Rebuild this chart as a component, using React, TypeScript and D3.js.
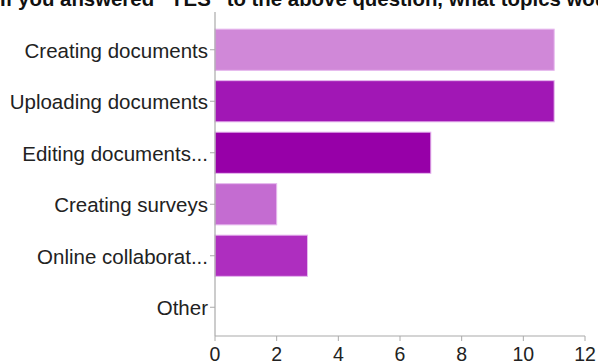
import React from "react";
import * as d3 from "d3";

const categories = [
  "Creating documents",
  "Uploading documents",
  "Editing documents...",
  "Creating surveys",
  "Online collaborat...",
  "Other",
];
const values = [11, 11, 7, 2, 3, 0];
const colors = ["#D088D8", "#A117B5", "#9700A8", "#C46CD1", "#AE2EBF", "#C46CD1"];
const xTicks = [0, 2, 4, 6, 8, 10, 12];
const title = "If you answered \u201CYES\u201D to the above question, what topics would you like to see covered?";

const W = 598;
const H = 364;
const left = 215;
const right = 585;
const top = 24;
const bottom = 336;

export default function App() {
  const x = d3.scaleLinear().domain([0, 12]).range([left, right]);
  const y = d3
    .scaleBand<string>()
    .domain(categories)
    .range([top, bottom - 3])
    .paddingInner(0.2)
    .paddingOuter(0.1);
  const font = "'Liberation Sans', Arial, Helvetica, sans-serif";
  return (
    <svg
      width={W}
      height={H}
      style={{ position: "absolute", left: 0, top: 0, background: "#fff" }}
      fontFamily={font}
    >
      <text x={0} y={6} fontSize={20.4} fontWeight="bold" fill="#111">
        {title}
      </text>
      {categories.map((c, i) => (
        <rect
          key={c}
          x={x(0)}
          y={y(c)!}
          width={x(values[i]) - x(0)}
          height={y.bandwidth()}
          fill={colors[i]}
          stroke={values[i] > 0 ? "#e6b8ee" : "none"}
          strokeWidth={1}
          style={{ display: values[i] > 0 ? undefined : "none" }}
        />
      ))}
      <line x1={left} x2={left} y1={top - 12} y2={bottom} stroke="#aaa" strokeWidth={1.2} />
      <line x1={left} x2={right} y1={bottom} y2={bottom} stroke="#aaa" strokeWidth={1.2} />
      {categories.map((c) => {
        const cy = y(c)! + y.bandwidth() / 2;
        return (
          <g key={c}>
            <line x1={left - 5} x2={left} y1={cy} y2={cy} stroke="#aaa" />
            <text
              x={left - 7}
              y={cy + 1}
              dy="0.35em"
              textAnchor="end"
              fontSize={20.5}
              fill="#222"
            >
              {c}
            </text>
          </g>
        );
      })}
      {xTicks.map((t) => (
        <g key={t}>
          <line x1={x(t)} x2={x(t)} y1={bottom} y2={bottom + 5} stroke="#aaa" />
          <text x={x(t)} y={bottom + 25} textAnchor="middle" fontSize={19.5} fill="#222">
            {t}
          </text>
        </g>
      ))}
    </svg>
  );
}
